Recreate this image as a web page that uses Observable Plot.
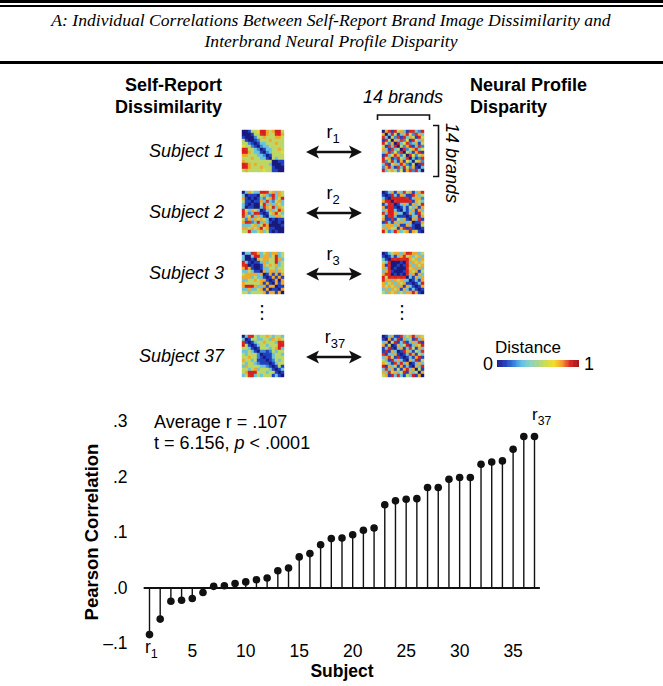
<!DOCTYPE html>
<html><head><meta charset="utf-8">
<script src="https://cdn.jsdelivr.net/npm/d3@7"></script>
<script src="https://cdn.jsdelivr.net/npm/@observablehq/plot@0.6"></script>
<style>
body{margin:0;background:#fff;}
#root{position:relative;width:663px;height:686px;overflow:hidden;font-family:"Liberation Sans",Arial,Helvetica,sans-serif;color:#000;background:#fff;}
.t{position:absolute;white-space:nowrap;line-height:1;}
.sub{font-size:0.72em;position:relative;top:0.42em;}
.rule{position:absolute;left:0;width:663px;background:#000;}
</style></head><body><div id="root"></div><script>
// ---------- data ----------
const subjects = [1,2,3,4,5,6,7,8,9,10,11,12,13,14,15,16,17,18,19,20,21,22,23,24,25,26,27,28,29,30,31,32,33,34,35,36,37];
const correlations = [-0.084,-0.056,-0.024,-0.022,-0.019,-0.008,0.003,0.004,0.008,0.011,0.015,0.018,0.031,0.036,0.056,0.062,0.078,0.089,0.090,0.096,0.104,0.108,0.150,0.157,0.160,0.161,0.181,0.181,0.196,0.199,0.199,0.223,0.227,0.229,0.250,0.273,0.273];
const xTicks = [5,10,15,20,25,30,35];
const yTicks = [-0.1,0,0.1,0.2,0.3];
const yTickLabels = ["\u2013.1",".0",".1",".2",".3"];
const subjectLabels = ["Subject 1","Subject 2","Subject 3","Subject 37"];
const rLabels = ["1","2","3","37"];
// distance matrices, digits 0 (distance 0) .. 9 (distance 1)
const selfReport1 = ["00155699757995","00015589755897","10002557555775","51001255575555","55210133555755","65521023355555","98553201335575","99753310235556","77555332015555","55575533105355","75555555550011","98757555530001","99755575551000","57555556551100"];
const neural1 = ["07819573198329","70395137952873","83052819375195","19507382619537","95270936823715","51839052791382","73183508257936","37926280531791","19368725086257","95712953803128","82593171630572","38157397215019","27931839527103","93575261782930"];
const selfReport2 = ["03753399857375","30111057329375","71010132578359","51101173832573","31010059373753","30110038759375","95375301373597","97239810157853","83583731033775","52737575301011","79823937310010","33357358700001","77575795711000","55933573510100"];
const neural2 = ["01371738571379","10193173119735","31099999813772","79908999981753","13980137317359","71991013153717","37993103137173","83997330173195","51893111013717","71181537107391","19317373370117","37773711731005","73755179191001","95239735717510"];
const selfReport3 = ["03398735737735","30039937735935","30010757755973","93101137355935","89010017575735","79710013355355","33531107377375","57777370171717","77735331017171","33557577101707","75555571710717","79997337177011","33733571701107","55355557177170"];
const neural3 = ["01357737987735","10131378573573","31098988975737","53900010837575","71800101973757","73901000857373","37810001975715","78801010837173","95989898031737","87737573301317","73573757110139","75757371731017","37375717313101","53757353779710"];
const selfReport37 = ["03895355753553","30155335537575","81013557555398","95101355355599","55310155535793","33531022125355","53555201113553","55755210113555","75535111012535","53553211101355","37555533210151","55997355531013","57999555355101","35893535551310"];
const neural37 = ["01371183579375","10713917351837","37059138137391","71501735913759","13910371385173","19173019731538","81337101397153","37851910131791","53193731073915","75318393701373","91735171310739","38371517937051","73957359173507","57193831539170"];
const jetColors = ["#1b1a7e","#1f3cbc","#2f7ad8","#5fbce6","#88d0c2","#a6d38e","#cfdb48","#f4dc22","#f3992a","#d92020","#9a1414"];

// ---------- helpers ----------
const root = document.getElementById("root");
function txt(html, x, y, o = {}) {
  const d = document.createElement("div");
  d.className = "t";
  d.innerHTML = html;
  const ax = o.anchor === "end" ? "-100%" : o.anchor === "start" ? "0" : "-50%";
  d.style.left = x + "px"; d.style.top = y + "px";
  d.style.transform = `translate(${ax},-50%)` + (o.rotate ? ` rotate(${o.rotate}deg)` : "");
  d.style.fontSize = (o.size || 18) + "px";
  if (o.bold) d.style.fontWeight = "bold";
  if (o.italic) d.style.fontStyle = "italic";
  if (o.font) d.style.fontFamily = o.font;
  root.appendChild(d);
  return d;
}
function place(el, x, y) {
  el.style.position = "absolute"; el.style.left = x + "px"; el.style.top = y + "px";
  el.style.display = "block";
  root.appendChild(el);
}
function rule(top, h) {
  const d = document.createElement("div"); d.className = "rule";
  d.style.top = top + "px"; d.style.height = h + "px"; root.appendChild(d);
}
const jet = d3.piecewise(d3.interpolateRgb, jetColors.slice(0, 10).concat([jetColors[9]]));
const jetLegend = d3.piecewise(d3.interpolateRgb, jetColors);
const idx = [0,1,2,3,4,5,6,7,8,9,10,11,12,13];
function matrixPlot(rows) {
  const cells = [];
  for (const i of idx) for (const j of idx)
    cells.push({row: i, col: j, v: +rows[Math.min(i, j)][Math.max(i, j)]});
  return Plot.plot({
    width: 52, height: 52, margin: 0,
    x: {type: "band", domain: idx, padding: 0, axis: null},
    y: {type: "band", domain: idx, padding: 0, axis: null},
    color: {type: "linear", domain: [0, 9], interpolate: jet},
    style: {background: "transparent"},
    marks: [Plot.cell(cells, {x: "col", y: "row", fill: "v", stroke: "v", strokeWidth: 0.4})]
  });
}

// ---------- header ----------
rule(0, 3); rule(5, 1.5); rule(61, 2.5);
const serif = '"Liberation Serif","Times New Roman",Times,serif';
txt("A: Individual Correlations Between Self-Report Brand Image Dissimilarity and", 331, 21, {size: 17.6, italic: true, font: serif});
txt("Interbrand Neural Profile Disparity", 331, 42, {size: 17.6, italic: true, font: serif});

// ---------- matrices panel ----------
txt("Self-Report", 222, 85, {anchor: "end", bold: true, size: 18});
txt("Dissimilarity", 222, 107, {anchor: "end", bold: true, size: 18});
txt("Neural Profile", 470, 85, {anchor: "start", bold: true, size: 18});
txt("Disparity", 470, 107, {anchor: "start", bold: true, size: 18});
txt("14 brands", 403, 97, {italic: true, size: 18});
txt("14 brands", 452, 163, {italic: true, size: 18, rotate: 90});

const rowTops = [125, 186, 247, 330];
const leftMats = [selfReport1, selfReport2, selfReport3, selfReport37];
const rightMats = [neural1, neural2, neural3, neural37];
rowTops.forEach((top, k) => {
  place(matrixPlot(leftMats[k]), 237, top);
  place(matrixPlot(rightMats[k]), 377, top);
  txt(subjectLabels[k], 224, top + 26, {anchor: "end", italic: true, size: 18});
  txt(`r<span class="sub">${rLabels[k]}</span>`, 333 + (k === 3 ? 2 : 0), top + 7, {size: 18});
});
txt("\u22EE", 262, 312, {size: 18, font: '"DejaVu Sans"'});
txt("\u22EE", 402, 312, {size: 18, font: '"DejaVu Sans"'});

// arrows and brackets
const ns = "http://www.w3.org/2000/svg";
const ov = document.createElementNS(ns, "svg");
ov.setAttribute("width", 663); ov.setAttribute("height", 400);
ov.style.position = "absolute"; ov.style.left = "0"; ov.style.top = "0";
let sv = "";
rowTops.forEach(top => {
  const y = top + 27, x1 = 306, x2 = 362;
  sv += `<line x1="${x1 + 8}" y1="${y}" x2="${x2 - 8}" y2="${y}" stroke="#111" stroke-width="2.5"/>`;
  sv += `<path d="M${x1},${y} L${x1 + 13},${y - 6.5} L${x1 + 10},${y} L${x1 + 13},${y + 6.5} Z" fill="#111"/>`;
  sv += `<path d="M${x2},${y} L${x2 - 13},${y - 6.5} L${x2 - 10},${y} L${x2 - 13},${y + 6.5} Z" fill="#111"/>`;
});
sv += `<path d="M377.5,120 V115 H429.5 V120" fill="none" stroke="#111" stroke-width="1.6"/>`;
sv += `<path d="M433,125.5 H438.5 V176.5 H433" fill="none" stroke="#111" stroke-width="1.6"/>`;
ov.innerHTML = sv;
root.appendChild(ov);

// legend
txt("Distance", 528, 347, {size: 17});
txt("0", 488, 364, {size: 18});
txt("1", 589, 364, {size: 18});
const steps = d3.range(100);
place(Plot.plot({
  width: 82, height: 7, margin: 0,
  x: {type: "band", domain: steps, padding: 0, axis: null},
  color: {type: "linear", domain: [0, 99], interpolate: jetLegend},
  style: {background: "transparent"},
  marks: [Plot.cell(steps, {x: d => d, fill: d => d, stroke: d => d, strokeWidth: 0.5})]
}), 497, 360);

// ---------- lollipop chart ----------
const data = subjects.map((s, i) => ({s, r: correlations[i]}));
const chart = Plot.plot({
  width: 663, height: 290,
  marginLeft: 149, marginRight: 129, marginTop: 25, marginBottom: 43,
  x: {domain: [1, 37], ticks: xTicks, tickSize: 0, tickPadding: 1, label: null},
  y: {domain: [-0.1, 0.3], ticks: yTicks, tickFormat: d => yTickLabels[yTicks.indexOf(d)], tickSize: 0, tickPadding: 22, label: null},
  style: {fontSize: "17.5px", fontFamily: '"Liberation Sans",Arial,sans-serif', background: "transparent", color: "#000", overflow: "visible"},
  marks: [
    Plot.ruleY([0], {x1: subjects[0] - 0.5, x2: subjects[subjects.length - 1] + 0.55, stroke: "#111", strokeWidth: 2}),
    Plot.ruleX(data, {x: "s", y1: 0, y2: "r", stroke: "#111", strokeWidth: 1.4}),
    Plot.dot(data, {x: "s", y: "r", r: 3.8, fill: "#111"})
  ]
});
place(chart, 0, 396);
txt("Average r = .107", 154, 422, {anchor: "start", size: 18});
txt("t = 6.156, <i>p</i> &lt; .0001", 154, 443, {anchor: "start", size: 18});
txt(`r<span class="sub">37</span>`, 532, 414, {anchor: "start", size: 17});
txt(`r<span class="sub">1</span>`, 145, 648, {anchor: "start", size: 17.5});
txt("Subject", 342, 672, {bold: true, size: 17.5});
txt("Pearson Correlation", 92, 532, {bold: true, size: 18.5, rotate: -90});
</script></body></html>
